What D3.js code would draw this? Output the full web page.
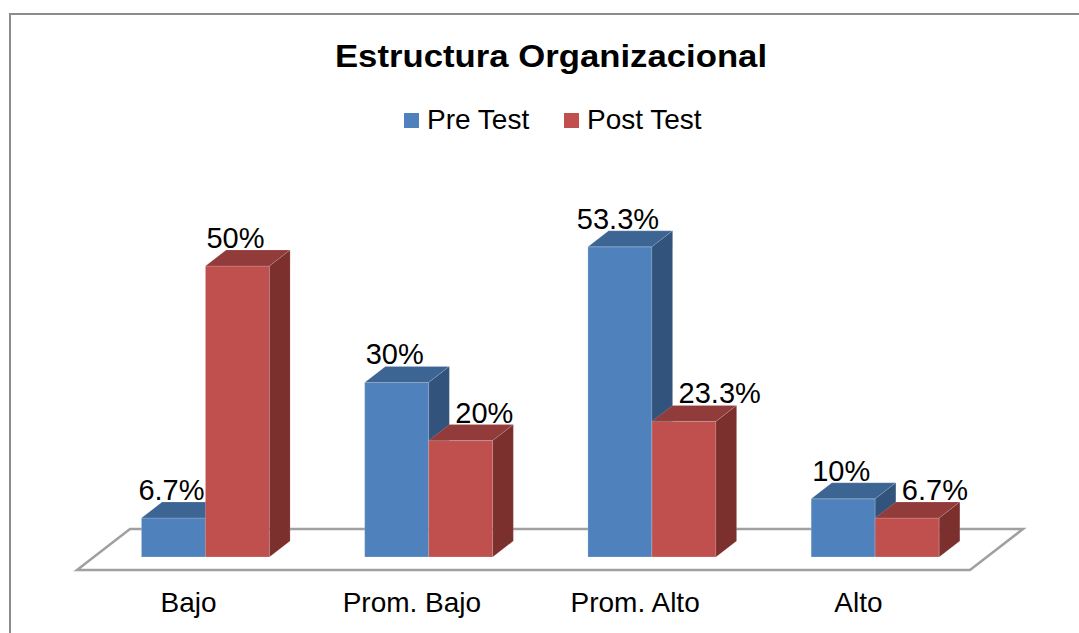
<!DOCTYPE html>
<html>
<head>
<meta charset="utf-8">
<script src="https://cdn.jsdelivr.net/npm/d3@7"></script>
<style>
  html, body { margin: 0; padding: 0; background: #fff; overflow: hidden; }
  text { font-family: Arial, "Liberation Sans", sans-serif; fill: #000; }
</style>
</head>
<body>
<script>
// chart data
const categories = ["Bajo", "Prom. Bajo", "Prom. Alto", "Alto"];
const series = ["Pre Test", "Post Test"];
const preTest = [6.7, 30, 53.3, 10];
const postTest = [50, 20, 23.3, 6.7];
const title = "Estructura Organizacional";

const W = 1079, H = 633;
// floor: front edge and depth vector
const FLOOR = { x0: 77, x1: 970, y: 570, dx: 53, dy: 41 };
const BAR_Z = [0.317, 0.707];
const COLORS = {
  "Pre Test": { front: "#4f81bd", top: "#3d6593", side: "#32537b" },
  "Post Test": { front: "#c0504d", top: "#913c3a", side: "#7b302e" },
};

const svg = d3.select("body").append("svg").attr("width", W).attr("height", H);

// outer frame
svg.append("rect")
  .attr("x", 10).attr("y", 14).attr("width", 1200).attr("height", 800)
  .attr("fill", "#fff").attr("stroke", "#8c8c8c").attr("stroke-width", 2);

function addText(g, x, y, str, size, anchor, weight, sx) {
  return g.append("text")
    .attr("transform", `translate(${x},${y}) scale(${sx || 1},1)`)
    .attr("text-anchor", anchor || "middle")
    .attr("font-size", size)
    .attr("font-weight", weight || "normal")
    .text(str);
}

// title + legend
addText(svg, 551, 67, title, 31, "middle", "bold", 1.12);
const legendX = [404, 564];
series.forEach((s, i) => {
  svg.append("rect")
    .attr("x", legendX[i]).attr("y", 113).attr("width", 15).attr("height", 15)
    .attr("fill", COLORS[s].front);
  addText(svg, legendX[i] + 23, 129, s, 28, "start");
});

// scales
const x = d3.scaleBand().domain(categories).range([FLOOR.x0, FLOOR.x1]);
const xInner = d3.scaleBand().domain(series).range([0, x.bandwidth()]).paddingOuter(0.744);
const y = d3.scaleLinear().domain([0, 50]).range([0, 291]);

const proj = (xw, h, z) => [xw + z * FLOOR.dx, FLOOR.y - h - z * FLOOR.dy];
const poly = pts => pts.map(p => p.join(",")).join(" ");

// floor
svg.append("polygon")
  .attr("points", poly([
    proj(FLOOR.x0, 0, 0), proj(FLOOR.x1, 0, 0),
    proj(FLOOR.x1, 0, 1), proj(FLOOR.x0, 0, 1)
  ]))
  .attr("fill", "#fff").attr("stroke", "#a0a0a0").attr("stroke-width", 2.5);

// category labels on the floor front edge
categories.forEach(c => {
  addText(svg, x(c) + x.bandwidth() / 2, 612, c, 28, "middle");
});

const values = { "Pre Test": preTest, "Post Test": postTest };
const gBars = svg.append("g");
const gLabels = svg.append("g");
const [z0, z1] = BAR_Z;
const bw = xInner.bandwidth();

categories.forEach((c, i) => {
  series.forEach((s, j) => {
    const v = values[s][i];
    const h = y(v);
    const xl = x(c) + xInner(s), xr = xl + bw;
    const col = COLORS[s];
    // front
    gBars.append("polygon")
      .attr("points", poly([proj(xl, 0, z0), proj(xr, 0, z0), proj(xr, h, z0), proj(xl, h, z0)]))
      .attr("fill", col.front).attr("stroke", "rgba(255,255,255,0.25)").attr("stroke-width", 0.8);
    // top
    gBars.append("polygon")
      .attr("points", poly([proj(xl, h, z0), proj(xr, h, z0), proj(xr, h, z1), proj(xl, h, z1)]))
      .attr("fill", col.top).attr("stroke", "rgba(255,255,255,0.2)").attr("stroke-width", 0.8);
    // side
    gBars.append("polygon")
      .attr("points", poly([proj(xr, 0, z0), proj(xr, 0, z1), proj(xr, h, z1), proj(xr, h, z0)]))
      .attr("fill", col.side).attr("stroke", "rgba(255,255,255,0.15)").attr("stroke-width", 0.8);

    // value label
    const by = proj(xl, h, z1)[1] - 2;
    const cx = proj(xl + bw / 2, 0, z0)[0] - 2;
    const t = addText(gLabels, cx, by, v + "%", 29, "middle");
    if (j === 1 && preTest[i] > v) {
      // push label right of the taller neighbour's side face
      const len = t.node().getComputedTextLength();
      const prevSide = proj(xl, 0, z1)[0] + 6;
      const start = Math.max(cx - len / 2, prevSide);
      t.attr("text-anchor", "start").attr("transform", `translate(${start},${by})`);
    }
  });
});
</script>
</body>
</html>
